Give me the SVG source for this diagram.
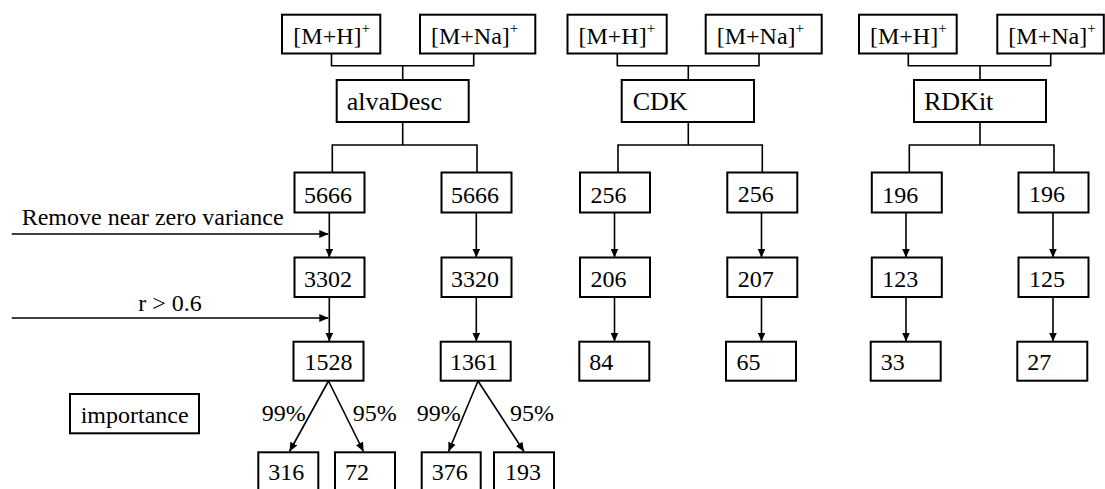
<svg xmlns="http://www.w3.org/2000/svg" width="1105" height="489" viewBox="0 0 1105 489">
<style>
text{font-family:'Liberation Serif','Times New Roman',Tinos,'Noto Serif','DejaVu Serif',serif;font-size:24px;fill:#000}
.t{font-size:26px}
.sup{font-size:15px}
rect{fill:#fff;stroke:#000;stroke-width:2}
.c line,.c path{stroke:#000;stroke-width:1.6;fill:none}
</style>
<defs>
<marker id="ah" viewBox="0 0 9 8" refX="9" refY="4" markerWidth="9" markerHeight="8" markerUnits="userSpaceOnUse" orient="auto">
<path d="M0,0 L9,4 L0,8 z" fill="#000"/>
</marker>
</defs>
<rect x="0" y="0" width="1105" height="489" style="stroke:none;fill:#fff"/>
<g class="c" id="connectors">
<path d="M331.5,53.5 V65.7 H473.7 V53.5 M402.7,65.7 V80"/>
<path d="M402.7,122 V145 M332.3,172.5 V145 H477 V172.5"/>
<path d="M617.3,53.5 V65.7 H759 V53.5 M688.3,65.7 V80"/>
<path d="M688.3,122 V145 M618,172.5 V145 H762.3 V172.5"/>
<path d="M908.3,53.5 V65.7 H1050.7 V53.5 M980,65.7 V80"/>
<path d="M980,122 V145 M909.3,172.5 V145 H1054 V172.5"/>
<line x1="329.3" y1="212.5" x2="329.3" y2="257.5" marker-end="url(#ah)"/>
<line x1="329.3" y1="297" x2="329.3" y2="341.5" marker-end="url(#ah)"/>
<line x1="476.3" y1="212.5" x2="476.3" y2="257.5" marker-end="url(#ah)"/>
<line x1="476.3" y1="297" x2="476.3" y2="341.5" marker-end="url(#ah)"/>
<line x1="614.5" y1="212.5" x2="614.5" y2="257.5" marker-end="url(#ah)"/>
<line x1="614.5" y1="297" x2="614.5" y2="341.5" marker-end="url(#ah)"/>
<line x1="761.5" y1="212.5" x2="761.5" y2="257.5" marker-end="url(#ah)"/>
<line x1="761.5" y1="297" x2="761.5" y2="341.5" marker-end="url(#ah)"/>
<line x1="906" y1="212.5" x2="906" y2="257.5" marker-end="url(#ah)"/>
<line x1="906" y1="297" x2="906" y2="341.5" marker-end="url(#ah)"/>
<line x1="1053" y1="212.5" x2="1053" y2="257.5" marker-end="url(#ah)"/>
<line x1="1053" y1="297" x2="1053" y2="341.5" marker-end="url(#ah)"/>
<line x1="11.7" y1="234" x2="328.3" y2="234" marker-end="url(#ah)"/>
<line x1="11.7" y1="318" x2="328.3" y2="318" marker-end="url(#ah)"/>
<line x1="328.5" y1="381" x2="289.5" y2="451.5" marker-end="url(#ah)"/>
<line x1="328.5" y1="381" x2="363.5" y2="451.5" marker-end="url(#ah)"/>
<line x1="478" y1="381" x2="448.5" y2="451.5" marker-end="url(#ah)"/>
<line x1="478" y1="381" x2="524" y2="451.5" marker-end="url(#ah)"/>
</g>
<g id="labels">
<text x="21.7" y="225">Remove near zero variance</text>
<text x="138.3" y="311">r &gt; 0.6</text>
<text x="261.7" y="420.7">99%</text>
<text x="352.7" y="420.7">95%</text>
<text x="416.7" y="420.7">99%</text>
<text x="510" y="420.7">95%</text>
</g>
<g id="a-mh"><rect x="282" y="14.7" width="98.3" height="38.8"/><text x="293.3" y="44.3">[M+H]<tspan class="sup" dy="-11">+</tspan></text></g>
<g id="a-mna"><rect x="420" y="14.7" width="115.3" height="38.8"/><text x="431" y="44.3">[M+Na]<tspan class="sup" dy="-11">+</tspan></text></g>
<g id="alvaDesc"><rect x="336.7" y="80" width="132" height="42"/><text class="t" x="346.7" y="110">alvaDesc</text></g>
<g id="c-mh"><rect x="567.5" y="14.7" width="99.2" height="38.8"/><text x="578.5" y="44.3">[M+H]<tspan class="sup" dy="-11">+</tspan></text></g>
<g id="c-mna"><rect x="705.7" y="14.7" width="116" height="38.8"/><text x="716.7" y="44.3">[M+Na]<tspan class="sup" dy="-11">+</tspan></text></g>
<g id="CDK"><rect x="621.7" y="80" width="132.3" height="42"/><text class="t" x="632.7" y="110">CDK</text></g>
<g id="r-mh"><rect x="859" y="14.7" width="97.7" height="38.8"/><text x="870" y="44.3">[M+H]<tspan class="sup" dy="-11">+</tspan></text></g>
<g id="r-mna"><rect x="997.3" y="14.7" width="106.5" height="38.8"/><text x="1008.3" y="44.3">[M+Na]<tspan class="sup" dy="-11">+</tspan></text></g>
<g id="RDKit"><rect x="914" y="80" width="132" height="42"/><text class="t" x="924" y="110">RDKit</text></g>
<g id="n-5666a"><rect x="294.5" y="172.5" width="70" height="40"/><text x="304" y="202.5">5666</text></g>
<g id="n-5666b"><rect x="441.5" y="172.5" width="70" height="40"/><text x="451" y="202.5">5666</text></g>
<g id="n-256a"><rect x="580" y="172.5" width="70" height="40"/><text x="590.5" y="202.5">256</text></g>
<g id="n-256b"><rect x="727.3" y="172.5" width="70" height="40"/><text x="737.8" y="201.5">256</text></g>
<g id="n-196a"><rect x="871.8" y="172.5" width="70" height="40"/><text x="882.3" y="202.5">196</text></g>
<g id="n-196b"><rect x="1018.5" y="172.5" width="70" height="40"/><text x="1029" y="201.5">196</text></g>
<g id="n-3302"><rect x="294.5" y="257.5" width="70" height="39.5"/><text x="304" y="287">3302</text></g>
<g id="n-3320"><rect x="441.5" y="257.5" width="70" height="39.5"/><text x="451" y="287">3320</text></g>
<g id="n-206"><rect x="580" y="257.5" width="70" height="39.5"/><text x="590.5" y="287">206</text></g>
<g id="n-207"><rect x="727.3" y="257.5" width="70" height="39.5"/><text x="737.8" y="287">207</text></g>
<g id="n-123"><rect x="871.8" y="257.5" width="70" height="39.5"/><text x="882.3" y="287">123</text></g>
<g id="n-125"><rect x="1018.5" y="257.5" width="70" height="39.5"/><text x="1029" y="287">125</text></g>
<g id="n-1528"><rect x="293.5" y="341.7" width="70" height="39"/><text x="304.5" y="369.5">1528</text></g>
<g id="n-1361"><rect x="440.7" y="341.7" width="70" height="39"/><text x="450" y="369.5">1361</text></g>
<g id="n-84"><rect x="579.3" y="341.7" width="70" height="39"/><text x="589.3" y="370">84</text></g>
<g id="n-65"><rect x="726" y="341.7" width="70" height="39"/><text x="736.5" y="370">65</text></g>
<g id="n-33"><rect x="870.7" y="341.7" width="70" height="39"/><text x="880.7" y="370">33</text></g>
<g id="n-27"><rect x="1017.3" y="341.7" width="70" height="39"/><text x="1027.3" y="370">27</text></g>
<g id="importance"><rect x="70" y="394" width="129" height="39.3"/><text x="80.7" y="422.7">importance</text></g>
<g id="n-316"><rect x="258.3" y="452.3" width="60" height="45"/><text x="268.3" y="480">316</text></g>
<g id="n-72"><rect x="335" y="452.3" width="60" height="45"/><text x="345" y="480">72</text></g>
<g id="n-376"><rect x="421.7" y="452.3" width="59" height="45"/><text x="431.7" y="480">376</text></g>
<g id="n-193"><rect x="494" y="452.3" width="60" height="45"/><text x="505" y="480">193</text></g>
</svg>
